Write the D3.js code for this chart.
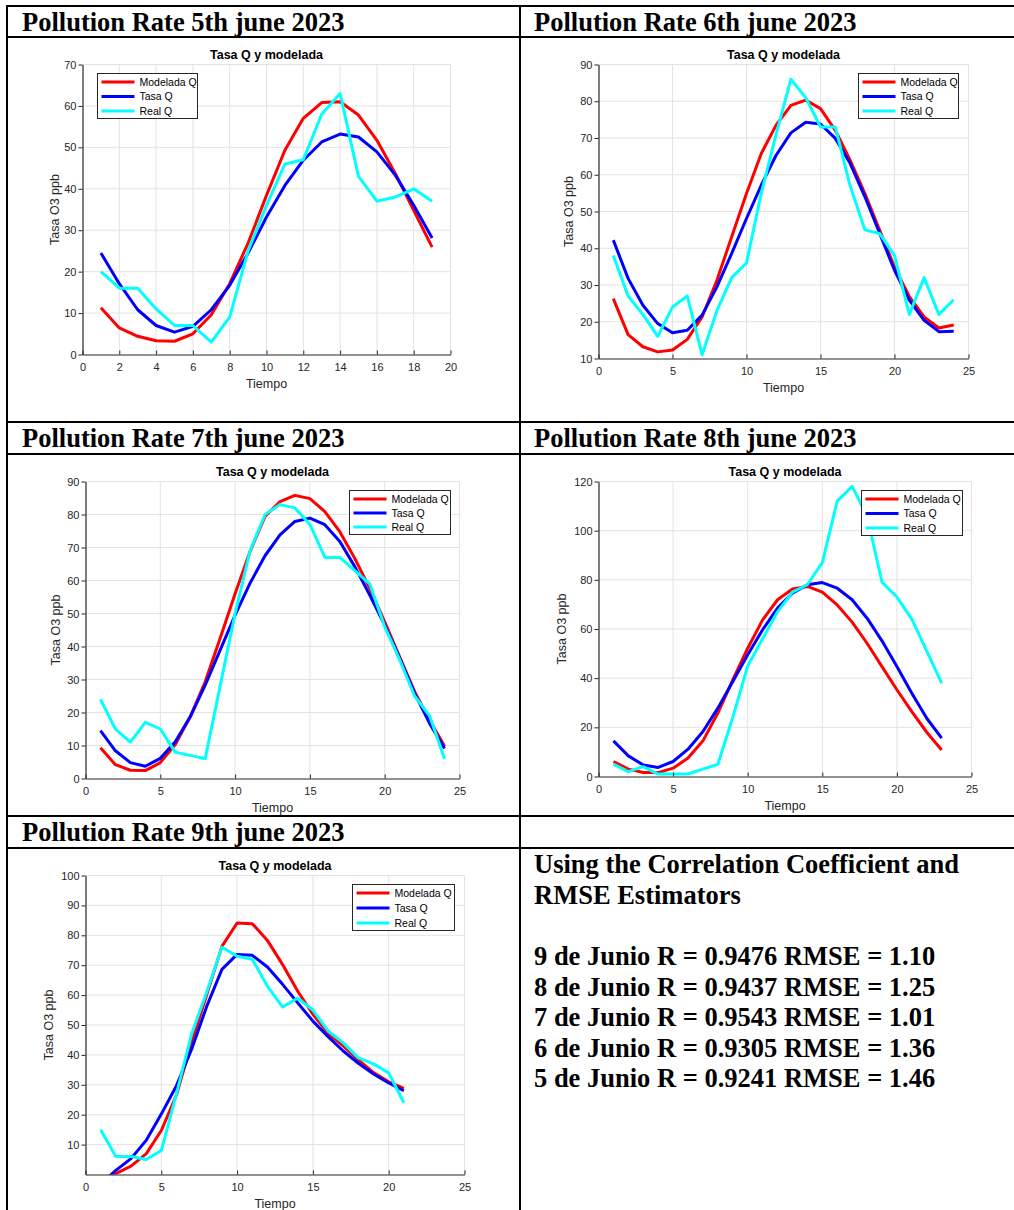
<!DOCTYPE html>
<html><head><meta charset="utf-8">
<script src="https://cdn.jsdelivr.net/npm/d3@7"></script>
<style>
html,body{margin:0;padding:0;background:#fff;}
svg{display:block;}
</style></head><body>
<svg id="c" width="1014" height="1210"></svg>
<script>
// ---------- DATA ----------
const headers = ["Pollution Rate 5th june 2023","Pollution Rate 6th june 2023","Pollution Rate 7th june 2023","Pollution Rate 8th june 2023","Pollution Rate 9th june 2023"];
const chartTitle = "Tasa Q y modelada";
const xLabel = "Tiempo";
const yLabel = "Tasa O3 ppb";
const legendLabels = ["Modelada Q","Tasa Q","Real Q"];

const hours5 = [1,2,3,4,5,6,7,8,9,10,11,12,13,14,15,16,17,18,19];
const modelada5 = [11.3,6.4,4.4,3.3,3.2,5.0,9.6,17.1,26.9,38.4,49.3,57.0,60.8,61.0,57.8,51.7,43.7,34.8,25.9];
const tasa5 = [24.5,17.1,10.8,7.0,5.4,6.8,10.8,16.7,24.5,33.2,40.8,46.9,51.3,53.2,52.5,48.9,43.3,36.0,28.1];
const real5 = [20,16,16,11,7,7,3,9,25,36,46,47,58,63,43,37,38,40,37];
const xTicks5 = [0,2,4,6,8,10,12,14,16,18,20];
const yTicks5 = [0,10,20,30,40,50,60,70];

const hours6 = [1,2,3,4,5,6,7,8,9,10,11,12,13,14,15,16,17,18,19,20,21,22,23,24];
const modelada6 = [26.3,16.5,13.2,11.8,12.3,15.2,21.3,31.3,43.1,54.9,65.8,73.5,78.9,80.3,78.0,72.1,64.0,54.9,44.9,34.9,26.8,21.3,18.3,19.1];
const tasa6 = [42.2,31.8,24.5,19.5,17.0,17.7,21.8,29.5,38.6,48.1,57.2,65.3,71.4,74.3,73.8,69.9,63.1,54.0,44.0,34.0,25.9,20.4,17.3,17.4];
const real6 = [38,27,22,16,24,27,11,23,32,36,55,71,86,81,73,73,57,45,44,38,22,32,22,26];
const xTicks6 = [0,5,10,15,20,25];
const yTicks6 = [10,20,30,40,50,60,70,80,90];

const hours7 = [1,2,3,4,5,6,7,8,9,10,11,12,13,14,15,16,17,18,19,20,21,22,23,24];
const modelada7 = [9.3,4.2,2.5,2.4,4.8,10.3,18.7,29.3,42.5,56.0,68.8,79.4,83.9,85.8,84.8,80.9,74.8,66.7,57.6,47.5,36.9,26.3,17.7,9.8];
const tasa7 = [14.5,8.4,4.8,3.7,6.1,11.1,18.7,28.3,38.9,49.5,59.2,67.5,73.8,77.9,78.9,76.9,71.8,64.2,55.6,46.5,36.4,25.8,16.7,9.1];
const real7 = [24,15,11,17,15,8,7,6,28,50,69,80,83,82,77,67,67,63,59,46,36,25,19,6];
const xTicks7 = [0,5,10,15,20,25];
const yTicks7 = [0,10,20,30,40,50,60,70,80,90];

const hours8 = [1,2,3,4,5,6,7,8,9,10,11,12,13,14,15,16,17,18,19,20,21,22,23];
const modelada8 = [6.1,3.0,1.6,1.6,3.4,7.5,14.5,25.8,39.3,52.2,63.7,71.9,76.3,77.3,75.0,69.8,62.8,54.2,44.7,35.3,26.4,18.0,10.8];
const tasa8 = [14.5,8.4,4.7,3.7,6.1,11.1,18.3,27.8,38.6,49.5,59.7,68.5,74.6,78.0,78.9,76.6,71.9,64.4,55.2,44.7,33.9,23.7,15.6];
const real8 = [5,2,4,1,1,1,3,5,24,45,56,67,75,78,87,112,118,106,79,73,64,51,38];
const xTicks8 = [0,5,10,15,20,25];
const yTicks8 = [0,20,40,60,80,100,120];

const hours9 = [1,2,3,4,5,6,7,8,9,10,11,12,13,14,15,16,17,18,19,20,21];
const modelada9 = [-1.5,0.3,2.8,6.9,14.7,26.6,44.1,60.2,76.3,84.1,83.9,78.3,70.2,61.3,53.6,47.2,43.0,38.3,34.1,31.0,28.8];
const tasa9 = [-3.3,1.4,5.3,11.4,20.2,29.7,41.9,56.3,68.6,73.6,73.3,69.4,63.6,57.4,51.3,46.1,41.3,37.2,33.6,30.6,28.0];
const real9 = [15,6,6,5,8,27,47,61,76,73,72,63,56,59,55,48,44,39,37,34,24];
const xTicks9 = [0,5,10,15,20,25];
const yTicks9 = [10,20,30,40,50,60,70,80,90,100];

const statsHeading = ["Using the Correlation Coefficient and","RMSE Estimators"];
const statsLines = [
  "9 de Junio R = 0.9476 RMSE = 1.10",
  "8 de Junio R = 0.9437 RMSE = 1.25",
  "7 de Junio R = 0.9543 RMSE = 1.01",
  "6 de Junio R = 0.9305 RMSE = 1.36",
  "5 de Junio R = 0.9241 RMSE = 1.46"
];

// ---------- DRAW ----------
const svg = d3.select("#c");
const SANS = "'Liberation Sans', Arial, Helvetica, sans-serif";
const SERIF = "'Liberation Serif', 'Times New Roman', Times, serif";
const seriesColors = ["#ff0000","#0000ff","#00ffff"];
const axisColor = "#262626";
const gridColor = "#e3e3e3";

const charts = [
  {hours:hours5, series:[modelada5,tasa5,real5], xDomain:[0,20], yDomain:[0,70], xTicks:xTicks5, yTicks:yTicks5,
   left:82.5, right:450.5, top:64.5, bottom:354.5, leg:[97.5,73.5,100,45], ylOff:24},
  {hours:hours6, series:[modelada6,tasa6,real6], xDomain:[0,25], yDomain:[10,90], xTicks:xTicks6, yTicks:yTicks6,
   left:598.5, right:968.5, top:64.5, bottom:358.5, leg:[858.5,73.5,100,45], ylOff:26},
  {hours:hours7, series:[modelada7,tasa7,real7], xDomain:[0,25], yDomain:[0,90], xTicks:xTicks7, yTicks:yTicks7,
   left:85.5, right:459.5, top:481.5, bottom:778.5, leg:[349.5,490.5,101,44], ylOff:26},
  {hours:hours8, series:[modelada8,tasa8,real8], xDomain:[0,25], yDomain:[0,120], xTicks:xTicks8, yTicks:yTicks8,
   left:598.5, right:971.5, top:481.5, bottom:776.5, leg:[861.5,490.5,101,45], ylOff:33},
  {hours:hours9, series:[modelada9,tasa9,real9], xDomain:[0,25], yDomain:[0,100], xTicks:xTicks9, yTicks:yTicks9,
   left:85.5, right:464.5, top:875.5, bottom:1174.5, leg:[352.5,884.5,102,46], ylOff:33}
];

function drawChart(cfg, idx) {
  const x = d3.scaleLinear().domain(cfg.xDomain).range([cfg.left, cfg.right]);
  const y = d3.scaleLinear().domain(cfg.yDomain).range([cfg.bottom, cfg.top]);
  const g = svg.append("g");

  // grid
  g.selectAll(null).data(cfg.xTicks.filter(t => t !== cfg.xDomain[0])).enter().append("line")
    .attr("x1", d => x(d)).attr("x2", d => x(d)).attr("y1", cfg.top).attr("y2", cfg.bottom)
    .attr("stroke", gridColor).attr("stroke-width", 1);
  g.selectAll(null).data(cfg.yTicks.filter(t => t !== cfg.yDomain[0])).enter().append("line")
    .attr("x1", cfg.left).attr("x2", cfg.right).attr("y1", d => y(d)).attr("y2", d => y(d))
    .attr("stroke", gridColor).attr("stroke-width", 1);

  // clip
  const clipId = "clip" + idx;
  g.append("clipPath").attr("id", clipId).append("rect")
    .attr("x", cfg.left).attr("y", cfg.top)
    .attr("width", cfg.right - cfg.left).attr("height", cfg.bottom - cfg.top);

  const line = d3.line().x((d, i) => x(cfg.hours[i])).y(d => y(d));
  cfg.series.forEach((s, k) => {
    g.append("path").attr("d", line(s)).attr("fill", "none")
      .attr("stroke", seriesColors[k]).attr("stroke-width", 3)
      .attr("stroke-linejoin", "round").attr("stroke-linecap", "butt")
      .attr("clip-path", `url(#${clipId})`);
  });

  // axes
  const ax = g.append("g").attr("transform", `translate(0,${cfg.bottom})`)
    .call(d3.axisBottom(x).tickValues(cfg.xTicks).tickSize(-4).tickSizeOuter(0).tickPadding(9).tickFormat(d3.format("d")));
  const ay = g.append("g").attr("transform", `translate(${cfg.left},0)`)
    .call(d3.axisLeft(y).tickValues(cfg.yTicks).tickSize(4).tickSizeOuter(0).tickPadding(2).tickFormat(d3.format("d")));
  [ax, ay].forEach(a => {
    a.attr("font-family", SANS).attr("font-size", 11);
    a.select(".domain").attr("stroke", axisColor).attr("stroke-width", 1.2);
    a.selectAll(".tick line").attr("stroke", axisColor);
    a.selectAll(".tick text").attr("fill", axisColor);
  });

  // title & labels
  const cx = (cfg.left + cfg.right) / 2;
  g.append("text").attr("x", cx).attr("y", cfg.top - 6).attr("text-anchor", "middle")
    .attr("font-family", SANS).attr("font-weight", "bold").attr("font-size", 12.5).attr("fill", "#000")
    .text(chartTitle);
  g.append("text").attr("x", cx).attr("y", cfg.bottom + 33).attr("text-anchor", "middle")
    .attr("font-family", SANS).attr("font-size", 12.5).attr("fill", axisColor).text(xLabel);
  g.append("text")
    .attr("transform", `translate(${cfg.left - cfg.ylOff},${(cfg.top + cfg.bottom) / 2}) rotate(-90)`)
    .attr("text-anchor", "middle").attr("font-family", SANS).attr("font-size", 12.5).attr("fill", axisColor)
    .text(yLabel);

  // legend
  const [lx, ly, lw, lh] = cfg.leg;
  const lg = g.append("g").attr("transform", `translate(${lx},${ly})`);
  lg.append("rect").attr("width", lw).attr("height", lh).attr("fill", "#fff")
    .attr("stroke", axisColor).attr("stroke-width", 1);
  const rowStep = (lh - 16) / 2;
  legendLabels.forEach((lab, k) => {
    const ry = 8.5 + k * rowStep;
    lg.append("line").attr("x1", 4).attr("x2", 37).attr("y1", ry).attr("y2", ry)
      .attr("stroke", seriesColors[k]).attr("stroke-width", 3);
    lg.append("text").attr("x", 42).attr("y", ry).attr("dy", "0.35em")
      .attr("font-family", SANS).attr("font-size", 10.5).attr("fill", "#000").text(lab);
  });
}

charts.forEach(drawChart);

// table borders
const tb = svg.append("g").attr("stroke", "#000").attr("stroke-width", 2);
[6, 37, 422, 454, 816, 848].forEach(yy => {
  tb.append("line").attr("x1", 6).attr("x2", 1014).attr("y1", yy).attr("y2", yy);
});
[7, 520].forEach(xx => {
  tb.append("line").attr("x1", xx).attr("x2", xx).attr("y1", 5).attr("y2", 1210);
});

// headers
const headerPos = [[22,31],[534,31],[22,447],[534,447],[22,841]];
headers.forEach((h, i) => {
  svg.append("text").attr("x", headerPos[i][0]).attr("y", headerPos[i][1])
    .attr("font-family", SERIF).attr("font-weight", "bold").attr("font-size", 26.5).attr("fill", "#000")
    .text(h);
});

// stats text
const st = svg.append("g").attr("font-family", SERIF).attr("font-weight", "bold").attr("font-size", 26.5).attr("fill", "#000");
statsHeading.forEach((t, i) => st.append("text").attr("x", 534).attr("y", 873 + i * 30.6).text(t));
statsLines.forEach((t, i) => st.append("text").attr("x", 534).attr("y", 965 + i * 30.6).text(t));
</script>
</body></html>
